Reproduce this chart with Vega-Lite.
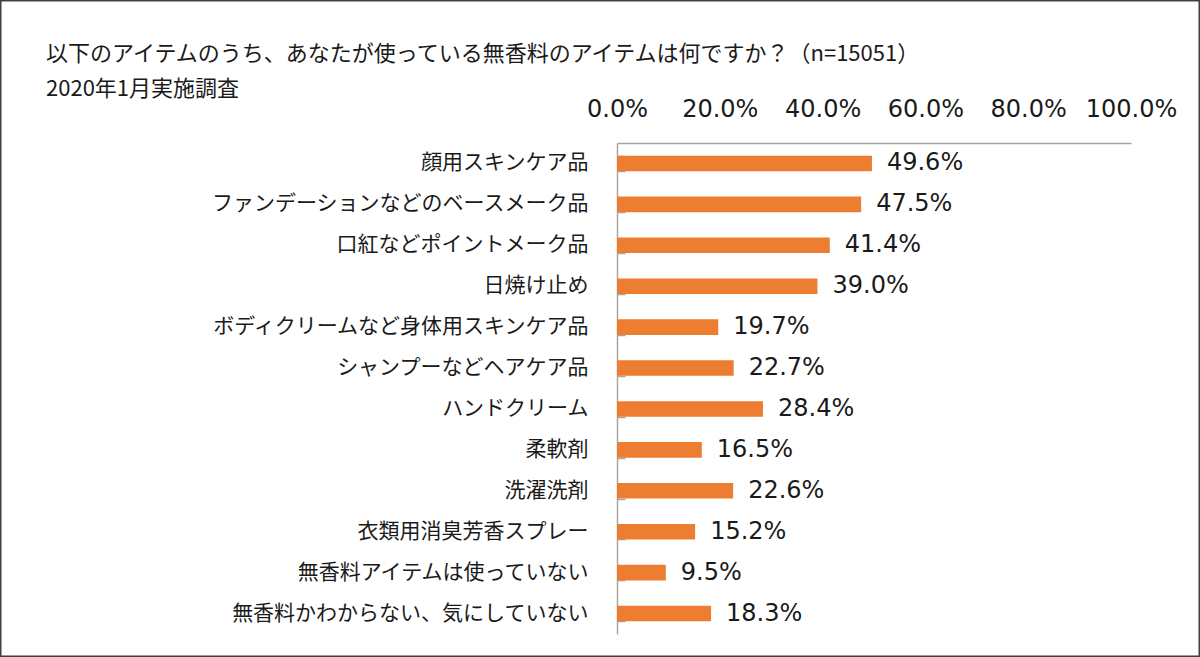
{
  "$schema": "https://vega.github.io/schema/vega-lite/v6.json",
  "width": 1200,
  "height": 657,
  "autosize": {"type": "none"},
  "padding": 0,
  "background": "#ffffff",
  "title": {
    "text": "以下のアイテムのうち、あなたが使っている無香料のアイテムは何ですか？（n=15051）",
    "subtitle": "2020年1月実施調査",
    "anchor": "start",
    "frame": "group",
    "orient": "top",
    "offset": -101,
    "dx": 46,
    "font": "Noto Sans CJK JP",
    "fontSize": 22,
    "fontWeight": "normal",
    "color": "#1a1a1a",
    "subtitleFont": "Noto Sans CJK JP",
    "subtitleFontSize": 22,
    "subtitleColor": "#1a1a1a",
    "subtitlePadding": 13
  },
  "data": {
    "values": [
      {"item": "顔用スキンケア品", "rate": 0.496},
      {"item": "ファンデーションなどのベースメーク品", "rate": 0.475},
      {"item": "口紅などポイントメーク品", "rate": 0.414},
      {"item": "日焼け止め", "rate": 0.390},
      {"item": "ボディクリームなど身体用スキンケア品", "rate": 0.197},
      {"item": "シャンプーなどヘアケア品", "rate": 0.227},
      {"item": "ハンドクリーム", "rate": 0.284},
      {"item": "柔軟剤", "rate": 0.165},
      {"item": "洗濯洗剤", "rate": 0.226},
      {"item": "衣類用消臭芳香スプレー", "rate": 0.152},
      {"item": "無香料アイテムは使っていない", "rate": 0.095},
      {"item": "無香料かわからない、気にしていない", "rate": 0.183}
    ]
  },
  "encoding": {
    "x": {
      "field": "rate",
      "type": "quantitative",
      "scale": {"domain": [0, 1], "range": [617, 1131], "nice": false},
      "axis": {
        "title": null,
        "orient": "top",
        "offset": -143,
        "values": [0, 0.2, 0.4, 0.6, 0.8, 1],
        "format": ".1%",
        "ticks": false,
        "grid": false,
        "domainColor": "#a6a6a6",
        "domainWidth": 1.5,
        "labelPadding": 22,
        "labelFont": "DejaVu Sans",
        "labelFontSize": 24,
        "labelColor": "#1a1a1a",
        "labelFlush": false
      }
    }
  },
  "layer": [
    {
      "mark": {"type": "bar", "color": "#ed7d31"},
      "encoding": {
        "y": {
          "field": "item",
          "type": "nominal",
          "sort": null,
          "scale": {"range": [143, 634], "paddingInner": 0.62, "paddingOuter": 0.31},
          "axis": {
            "title": null,
            "orient": "left",
            "offset": -617,
            "ticks": false,
            "domainColor": "#a6a6a6",
            "domainWidth": 1.5,
            "labelPadding": 29,
            "labelFont": "Noto Sans CJK JP",
            "labelFontSize": 21,
            "labelColor": "#1a1a1a",
            "labelLimit": 600
          }
        }
      }
    },
    {
      "mark": {"type": "text", "align": "left", "baseline": "middle", "dx": 15, "font": "DejaVu Sans", "fontSize": 24, "color": "#1a1a1a"},
      "encoding": {
        "y": {
          "field": "item",
          "type": "nominal",
          "sort": null,
          "axis": {
            "title": null,
            "orient": "right",
            "offset": -583,
            "labels": false,
            "domain": false,
            "ticks": true,
            "tickBand": "extent",
            "tickOffset": 12.7,
            "tickSize": 8,
            "tickWidth": 1.5,
            "tickColor": "#a6a6a6"
          }
        },
        "text": {"field": "rate", "type": "quantitative", "format": ".1%"}
      }
    }
  ],
  "resolve": {"axis": {"y": "independent"}},
  "config": {
    "view": {"stroke": "#404040", "strokeWidth": 3}
  }
}
